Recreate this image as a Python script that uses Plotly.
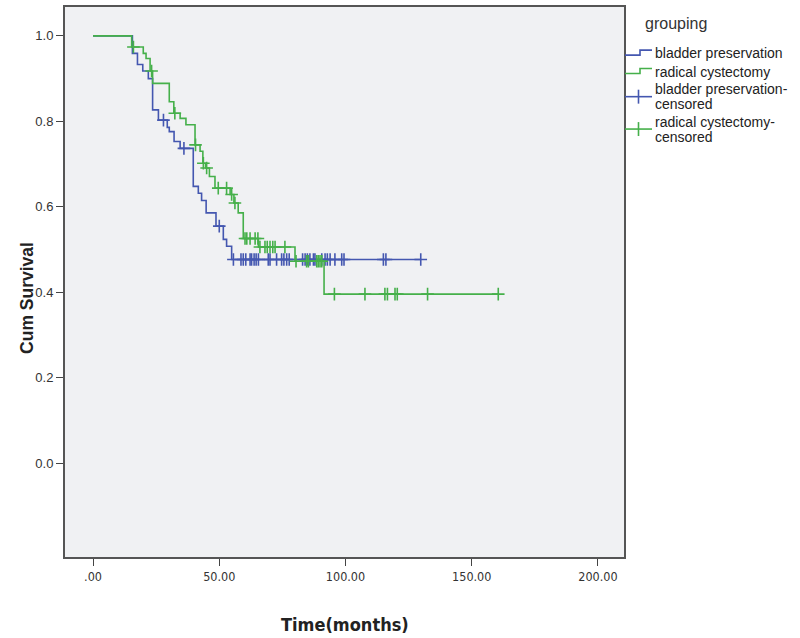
import numpy as np
import plotly.graph_objects as go

# ---------------- data ----------------
group_names = ["bladder preservation", "radical cystectomy"]

# Kaplan-Meier step functions (event times, survival after the step)
bp_time = [0, 15.6, 17.6, 19.7, 21.9, 23.6, 25.9, 29.4, 30.2, 32.1, 34.5, 39.7, 41.7, 43.0, 44.8, 48.7, 51.6, 52.9, 54.9]
bp_surv = [1.0, 0.959, 0.933, 0.918, 0.900, 0.827, 0.803, 0.786, 0.776, 0.753, 0.737, 0.648, 0.632, 0.615, 0.586, 0.555, 0.524, 0.508, 0.477]
bp_censored = [27.9, 36.0, 50.0, 55.6, 58.6, 59.5, 60.5, 62.2, 62.8, 63.8, 64.6, 65.5, 69.4, 70.1, 72.7,
               74.7, 75.6, 76.7, 77.7, 83.0, 84.0, 84.9, 85.9, 87.3, 87.9, 90.6, 91.9, 92.8, 93.9, 95.8,
               98.5, 99.4, 115.0, 116.0, 129.8]

rc_time = [0, 15.3, 19.9, 21.0, 22.6, 23.6, 30.2, 32.0, 34.5, 36.8, 40.4, 42.4, 43.5, 44.6, 46.1, 48.3,
           54.3, 55.8, 57.5, 59.5, 65.5, 80.0, 91.5]
rc_surv = [1.0, 0.974, 0.959, 0.947, 0.918, 0.889, 0.846, 0.819, 0.807, 0.792, 0.745, 0.730, 0.702, 0.691,
           0.671, 0.644, 0.629, 0.609, 0.586, 0.526, 0.506, 0.473, 0.396]
rc_censored = [16.0, 23.2, 32.4, 40.6, 43.7, 45.0, 49.6, 52.9, 54.9, 56.2, 60.2, 60.9, 62.2, 64.2, 65.3, 66.1,
               68.1, 69.0, 70.1, 71.2, 72.1, 76.0, 80.4, 84.6, 85.3, 88.6, 89.2, 89.9, 90.6, 95.6, 107.7,
               115.6, 116.6, 119.6, 120.5, 132.5, 160.5]

x_tickvals = [0, 50, 100, 150, 200]
x_ticktext = [".00", "50.00", "100.00", "150.00", "200.00"]
y_tickvals = [0.0, 0.2, 0.4, 0.6, 0.8, 1.0]
y_ticktext = ["0.0", "0.2", "0.4", "0.6", "0.8", "1.0"]

BLUE = "#4457B0"
GREEN = "#45B04A"

# ---------------- layout geometry (pixels) ----------------
W, H = 800, 638
L, R, T, B = 65, 624, 5, 557

NARROW = "Liberation Sans Narrow, Arial Narrow, DejaVu Sans Condensed, sans-serif"
SANS = "Liberation Sans, Arial, sans-serif"


def px(x):
    return (x - L) / (R - L)


def py(y):
    return (B - y) / (B - T)


def step_value(times, surv, t):
    i = np.searchsorted(np.array(times), t, side="right") - 1
    return np.array(surv)[i]


fig = go.Figure()

for times, surv, cens, col in [(bp_time, bp_surv, bp_censored, BLUE),
                               (rc_time, rc_surv, rc_censored, GREEN)]:
    xs = list(times) + [max(cens)]
    ys = list(surv) + [surv[-1]]
    fig.add_trace(go.Scatter(x=xs, y=ys, mode="lines", line=dict(color=col, width=1.6, shape="hv"),
                             showlegend=False, hoverinfo="skip"))
    cy = [float(step_value(times, surv, t)) for t in cens]
    fig.add_trace(go.Scatter(x=cens, y=cy, mode="markers",
                             marker=dict(symbol="cross-thin", size=9, line=dict(color=col, width=1.6)),
                             showlegend=False, hoverinfo="skip"))

axis_common = dict(showgrid=False, zeroline=False, showline=True, mirror=True,
                   linecolor="#555555", linewidth=2, ticks="outside", ticklen=7,
                   tickcolor="#444444", tickwidth=1.2)

fig.update_xaxes(range=[-11.1, 210.3], tickvals=x_tickvals, ticktext=x_ticktext,
                 tickfont=dict(family=NARROW, size=12.5, color="#333333"), **axis_common)
fig.update_yaxes(range=[-0.219, 1.0676], tickvals=y_tickvals, ticktext=y_ticktext,
                 tickfont=dict(family=SANS, size=13, color="#333333"), **axis_common)


def ann(text, x, y, size, family=SANS, xanchor="center", angle=0, color="#222222"):
    return dict(text=text, x=px(x), y=py(y), xref="paper", yref="paper", xanchor=xanchor,
                yanchor="middle", textangle=angle, showarrow=False, align="left",
                font=dict(family=family, size=size, color=color))


annotations = [
    ann("<b>Cum Survival</b>", 27, 297, 17.5, angle=-90),
    ann("<b>Time(months)</b>", 345, 625, 18, family=NARROW),
    ann("grouping", 676, 22, 16, color="#333333"),
]

shapes = []
LEG = 14

# legend: step glyphs
for (y_low, y_high, y_text, col, label) in [(53.3, 48.3, 51.5, BLUE, group_names[0]),
                                            (71.7, 66.7, 70.0, GREEN, group_names[1])]:
    path = "M {} {} L {} {} L {} {} L {} {}".format(px(625), py(y_low), px(640), py(y_low),
                                                    px(640), py(y_high), px(652), py(y_high))
    shapes.append(dict(type="path", path=path, xref="paper", yref="paper",
                       line=dict(color=col, width=1.6)))
    annotations.append(ann(label, 653, y_text, LEG, xanchor="left"))

# legend: censored glyphs
for (yc, col, label) in [(95.0, BLUE, group_names[0]), (127.5, GREEN, group_names[1])]:
    shapes.append(dict(type="line", x0=px(625), x1=px(652), y0=py(yc), y1=py(yc), xref="paper", yref="paper",
                       line=dict(color=col, width=1.6)))
    shapes.append(dict(type="line", x0=px(638.5), x1=px(638.5), y0=py(yc - 7), y1=py(yc + 7),
                       xref="paper", yref="paper", line=dict(color=col, width=1.6)))
    annotations.append(ann(label + "-", 653, yc - 7.5, LEG, xanchor="left"))
    annotations.append(ann("censored", 653, yc + 7.5, LEG, xanchor="left"))

fig.update_layout(width=W, height=H, margin=dict(l=L, r=W - R, t=T, b=H - B, pad=0),
                  plot_bgcolor="#F0F1F3", paper_bgcolor="white",
                  annotations=annotations, shapes=shapes, showlegend=False)

fig.write_html("out.html", config={"displayModeBar": False},
               post_script="document.body.style.margin='0';document.body.style.overflow='hidden';")
